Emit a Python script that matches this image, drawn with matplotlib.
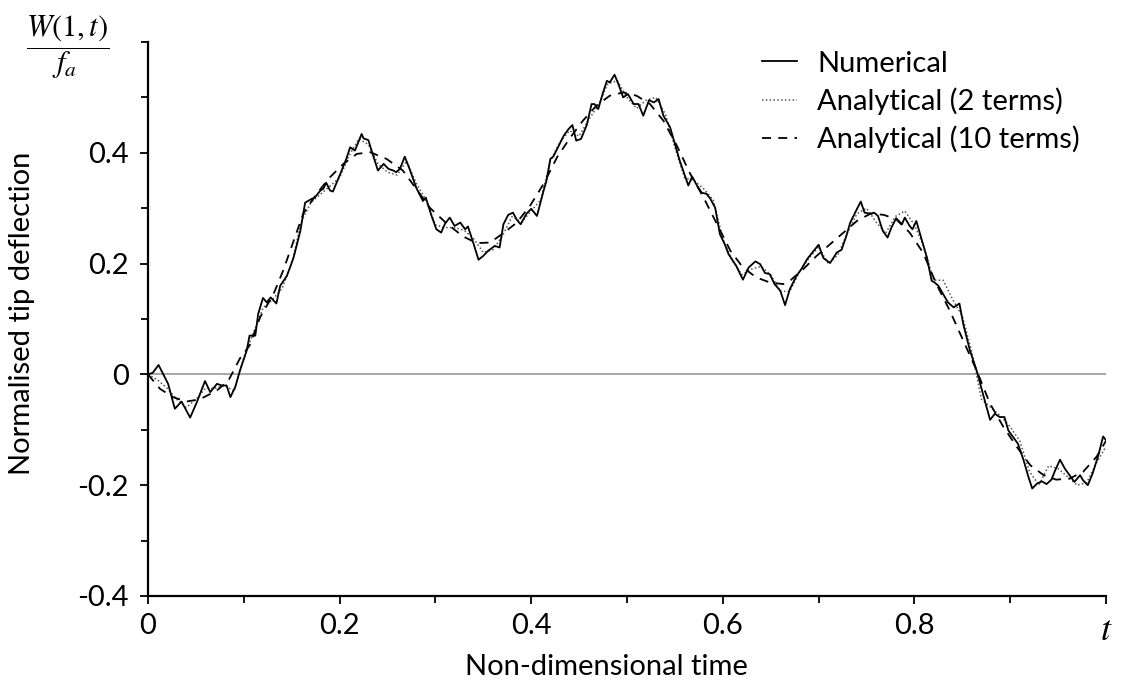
import matplotlib
matplotlib.use("Agg")
import matplotlib.pyplot as plt
from matplotlib.ticker import FixedLocator

# --- data ---
num_t = [0.000, 0.005, 0.011, 0.016, 0.021, 0.028, 0.035, 0.044, 0.051, 0.0595,
         0.065, 0.072, 0.077, 0.082, 0.086, 0.091, 0.096, 0.103, 0.106, 0.112,
         0.115, 0.120, 0.124, 0.128, 0.134, 0.138, 0.145, 0.152, 0.159, 0.164,
         0.167, 0.171, 0.174, 0.180, 0.183, 0.186, 0.190, 0.193, 0.200, 0.207,
         0.211, 0.216, 0.223, 0.225, 0.230, 0.235, 0.240, 0.246, 0.251, 0.256,
         0.259, 0.263, 0.268, 0.273, 0.280, 0.287, 0.290, 0.296, 0.301, 0.306,
         0.310, 0.315, 0.320, 0.326, 0.331, 0.334, 0.340, 0.345, 0.350, 0.355,
         0.362, 0.367, 0.371, 0.376, 0.381, 0.385, 0.389, 0.395, 0.400, 0.406,
         0.413, 0.416, 0.420, 0.423, 0.428, 0.434, 0.439, 0.443, 0.447, 0.452,
         0.458, 0.463, 0.466, 0.470, 0.475, 0.479, 0.482, 0.487, 0.491, 0.496,
         0.501, 0.507, 0.512, 0.517, 0.523, 0.528, 0.533, 0.538, 0.545, 0.550,
         0.555, 0.561, 0.564, 0.568, 0.573, 0.578, 0.583, 0.587, 0.592, 0.597,
         0.602, 0.606, 0.614, 0.621, 0.627, 0.634, 0.639, 0.644, 0.649, 0.654,
         0.660, 0.665, 0.670, 0.677, 0.682, 0.688, 0.693, 0.700, 0.705, 0.712,
         0.719, 0.724, 0.729, 0.733, 0.739, 0.744, 0.748, 0.754, 0.758, 0.762,
         0.767, 0.772, 0.776, 0.781, 0.787, 0.790, 0.795, 0.798, 0.802, 0.807,
         0.813, 0.818, 0.821, 0.825, 0.830, 0.835, 0.841, 0.847, 0.851, 0.858,
         0.865, 0.872, 0.879, 0.884, 0.889, 0.894, 0.898, 0.903, 0.908, 0.914,
         0.919, 0.923, 0.928, 0.933, 0.938, 0.943, 0.947, 0.952, 0.957, 0.962,
         0.967, 0.973, 0.976, 0.981, 0.986, 0.992, 0.997, 1.000]
num_w = [0.000, 0.003, 0.017, 0.000, -0.017, -0.062, -0.049, -0.078, -0.050, -0.012,
         -0.032, -0.017, -0.020, -0.020, -0.041, -0.023, 0.007, 0.043, 0.070, 0.070,
         0.109, 0.138, 0.130, 0.139, 0.128, 0.160, 0.178, 0.211, 0.259, 0.310,
         0.313, 0.317, 0.319, 0.332, 0.335, 0.346, 0.332, 0.330, 0.359, 0.389,
         0.410, 0.404, 0.434, 0.426, 0.423, 0.395, 0.368, 0.380, 0.371, 0.368,
         0.365, 0.371, 0.393, 0.371, 0.337, 0.313, 0.319, 0.286, 0.262, 0.256,
         0.272, 0.283, 0.268, 0.274, 0.262, 0.267, 0.235, 0.207, 0.214, 0.223,
         0.232, 0.229, 0.271, 0.288, 0.292, 0.279, 0.271, 0.290, 0.299, 0.286,
         0.332, 0.350, 0.389, 0.393, 0.410, 0.431, 0.443, 0.450, 0.422, 0.425,
         0.450, 0.488, 0.488, 0.479, 0.509, 0.530, 0.527, 0.541, 0.524, 0.500,
         0.506, 0.488, 0.488, 0.467, 0.495, 0.491, 0.497, 0.467, 0.446, 0.416,
         0.386, 0.356, 0.341, 0.357, 0.341, 0.328, 0.326, 0.317, 0.301, 0.253,
         0.235, 0.217, 0.196, 0.171, 0.193, 0.204, 0.199, 0.183, 0.181, 0.163,
         0.151, 0.125, 0.154, 0.178, 0.190, 0.208, 0.219, 0.234, 0.210, 0.201,
         0.220, 0.225, 0.250, 0.274, 0.295, 0.312, 0.292, 0.290, 0.292, 0.286,
         0.259, 0.247, 0.265, 0.282, 0.271, 0.283, 0.268, 0.262, 0.277, 0.247,
         0.211, 0.169, 0.166, 0.160, 0.145, 0.130, 0.121, 0.128, 0.091, 0.043,
         0.007, -0.038, -0.082, -0.071, -0.077, -0.077, -0.101, -0.113, -0.125, -0.155,
         -0.185, -0.206, -0.197, -0.193, -0.198, -0.190, -0.173, -0.154, -0.170, -0.182,
         -0.194, -0.182, -0.191, -0.200, -0.179, -0.146, -0.112, -0.119]

an2_t = [0.00, 0.01, 0.02, 0.03, 0.04, 0.05, 0.06, 0.07, 0.08, 0.09,
         0.10, 0.11, 0.12, 0.13, 0.14, 0.15, 0.16, 0.17, 0.18, 0.19,
         0.20, 0.21, 0.22, 0.23, 0.24, 0.25, 0.26, 0.27, 0.28, 0.29,
         0.30, 0.31, 0.32, 0.33, 0.34, 0.35, 0.36, 0.37, 0.38, 0.39,
         0.40, 0.41, 0.42, 0.43, 0.44, 0.45, 0.46, 0.47, 0.48, 0.49,
         0.50, 0.51, 0.52, 0.53, 0.54, 0.55, 0.56, 0.57, 0.58, 0.59,
         0.60, 0.61, 0.62, 0.63, 0.64, 0.65, 0.66, 0.67, 0.68, 0.69,
         0.70, 0.71, 0.72, 0.73, 0.74, 0.75, 0.76, 0.77, 0.78, 0.79,
         0.80, 0.81, 0.82, 0.83, 0.84, 0.85, 0.86, 0.87, 0.88, 0.89,
         0.90, 0.91, 0.92, 0.93, 0.94, 0.95, 0.96, 0.97, 0.98, 0.99, 1.00]
an2_w = [0.000, -0.010, -0.025, -0.045, -0.060, -0.045, -0.025, -0.025, -0.020, -0.030,
         0.030, 0.075, 0.120, 0.135, 0.155, 0.200, 0.275, 0.310, 0.325, 0.340,
         0.355, 0.395, 0.425, 0.415, 0.380, 0.365, 0.360, 0.385, 0.345, 0.315,
         0.270, 0.265, 0.265, 0.260, 0.245, 0.220, 0.225, 0.250, 0.285, 0.275,
         0.295, 0.315, 0.385, 0.420, 0.440, 0.430, 0.460, 0.485, 0.525, 0.530,
         0.500, 0.480, 0.495, 0.500, 0.470, 0.410, 0.355, 0.350, 0.335, 0.315,
         0.245, 0.205, 0.180, 0.190, 0.195, 0.180, 0.150, 0.150, 0.185, 0.210,
         0.230, 0.200, 0.215, 0.255, 0.290, 0.300, 0.275, 0.255, 0.285, 0.295,
         0.270, 0.230, 0.170, 0.170, 0.135, 0.105, 0.040, -0.045, -0.060, -0.075,
         -0.095, -0.120, -0.175, -0.200, -0.165, -0.170, -0.185, -0.200, -0.195, -0.160, -0.130]

an10_t = [0.000, 0.0125, 0.026, 0.040, 0.054, 0.072, 0.084, 0.096, 0.106, 0.117,
          0.131, 0.141, 0.152, 0.162, 0.176, 0.190, 0.204, 0.218, 0.232, 0.249,
          0.266, 0.280, 0.294, 0.312, 0.329, 0.343, 0.357, 0.371, 0.385, 0.399,
          0.413, 0.427, 0.441, 0.454, 0.468, 0.482, 0.496, 0.510, 0.524, 0.538,
          0.552, 0.566, 0.580, 0.594, 0.608, 0.621, 0.635, 0.649, 0.663, 0.670,
          0.684, 0.698, 0.712, 0.726, 0.740, 0.754, 0.768, 0.781, 0.795, 0.809,
          0.823, 0.837, 0.851, 0.865, 0.879, 0.893, 0.907, 0.921, 0.935, 0.948,
          0.962, 0.976, 0.990, 1.000]
an10_w = [0.000, -0.026, -0.041, -0.049, -0.045, -0.029, -0.011, 0.029, 0.052, 0.103,
          0.145, 0.187, 0.241, 0.290, 0.326, 0.356, 0.380, 0.398, 0.401, 0.389,
          0.368, 0.335, 0.301, 0.272, 0.249, 0.237, 0.238, 0.255, 0.274, 0.305,
          0.344, 0.392, 0.428, 0.458, 0.485, 0.503, 0.509, 0.503, 0.488, 0.458,
          0.413, 0.362, 0.319, 0.271, 0.223, 0.193, 0.175, 0.166, 0.163, 0.169,
          0.190, 0.214, 0.235, 0.256, 0.277, 0.290, 0.288, 0.280, 0.256, 0.220,
          0.163, 0.115, 0.061, 0.007, -0.053, -0.095, -0.131, -0.164, -0.182, -0.190,
          -0.188, -0.176, -0.149, -0.120]

x_ticks = [0, 0.2, 0.4, 0.6, 0.8, 1.0]
x_labels = ['0', '0.2', '0.4', '0.6', '0.8', '$t$']
y_ticks = [-0.4, -0.2, 0, 0.2, 0.4]
y_labels = ['-0.4', '-0.2', '0', '0.2', '0.4']

plt.rcParams['font.family'] = ['Lato', 'DejaVu Sans']
plt.rcParams['mathtext.fontset'] = 'stix'

fig = plt.figure(figsize=(11.27, 6.93), dpi=100)
ax = fig.add_axes([148/1127, 97/693, 958/1127, 554/693])

ax.axhline(0, color='#a0a0a0', lw=1.3, zorder=1)
ax.plot(num_t, num_w, color='black', lw=1.3, label='Numerical', zorder=3)
ax.plot(an2_t, an2_w, color='#555555', lw=1.1, ls=(0, (1, 1.5)), label='Analytical (2 terms)', zorder=2)
ax.plot(an10_t, an10_w, color='black', lw=1.3, ls=(0, (5, 4)), label='Analytical (10 terms)', zorder=2)

ax.set_xlim(0, 1)
ax.set_ylim(-0.4, 0.6)
for s in ['top', 'right']:
    ax.spines[s].set_visible(False)
for s in ['left', 'bottom']:
    ax.spines[s].set_linewidth(1.6)

ax.set_xticks(x_ticks)
ax.set_xticklabels(x_labels)
ax.set_yticks(y_ticks)
ax.set_yticklabels(y_labels)
ax.xaxis.set_minor_locator(FixedLocator([0.1, 0.3, 0.5, 0.7, 0.9]))
ax.yaxis.set_minor_locator(FixedLocator([-0.3, -0.1, 0.1, 0.3, 0.5, 0.6]))
ax.tick_params(which='major', direction='out', length=6, width=1.3, labelsize=21)
ax.tick_params(which='minor', direction='out', length=5, width=1.3)
ax.tick_params(axis='x', pad=6)
ax.tick_params(axis='y', pad=8)
ax.get_xticklabels()[-1].set_fontsize(26)

ax.set_xlabel('Non-dimensional time', fontsize=21)
ax.xaxis.set_label_coords((606 - 148) / 958, -0.105)
ax.set_ylabel('Normalised tip deflection', fontsize=21)
ax.yaxis.set_label_coords(-0.118, 0.51)

fig.text(68/1127, 1 - 47/693, r'$\dfrac{W(1,t)}{f_a}$', fontsize=22,
         ha='center', va='center')

ax.legend(loc='upper left', bbox_to_anchor=(747/1127, 1 - 36/693),
          bbox_transform=fig.transFigure, frameon=False, fontsize=21,
          handlelength=1.2, handletextpad=0.7, labelspacing=0.37, borderpad=0)

fig.savefig('out.png', dpi=100)
